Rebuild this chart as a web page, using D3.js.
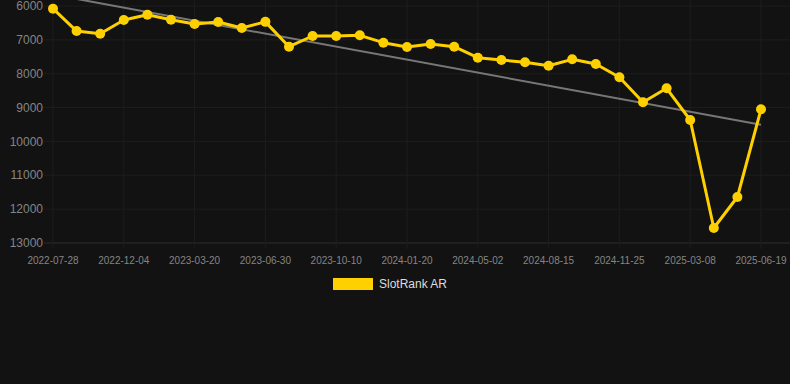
<!DOCTYPE html>
<html>
<head>
<meta charset="utf-8">
<script src="https://cdn.jsdelivr.net/npm/d3@7"></script>
<style>
  html, body { margin: 0; padding: 0; background: #121212; }
  svg { display: block; font-family: "Liberation Sans", Arial, sans-serif; }
</style>
</head>
<body>
<div class="box"></div>
<script>
// données
const dates = [
  '2022-07-28', '2022-09-09', '2022-10-22', '2022-12-04', '2023-01-08', '2023-02-12',
  '2023-03-20', '2023-04-23', '2023-05-27', '2023-06-30', '2023-08-03', '2023-09-06',
  '2023-10-10', '2023-11-13', '2023-12-17', '2024-01-20', '2024-02-23', '2024-03-28',
  '2024-05-02', '2024-06-06', '2024-07-11', '2024-08-15', '2024-09-18', '2024-10-22',
  '2024-11-25', '2024-12-29', '2025-02-01', '2025-03-08', '2025-04-11', '2025-05-15',
  '2025-06-19'
];
const rangs = [
  6080, 6740, 6820, 6413, 6256, 6404, 6532, 6473, 6650, 6468, 7202, 6886,
  6886, 6866, 7083, 7211, 7122, 7202, 7527, 7595, 7664, 7763, 7575, 7713,
  8106, 8845, 8431, 9367, 12556, 11641, 9051
];
const yTicks = [6000, 7000, 8000, 9000, 10000, 11000, 12000, 13000];
const serie = 'SlotRank AR';

const dims = {width: 790, height: 384, left: 53, right: 761, bottom: 243};

const svg = d3.select('.box')
              .append('svg')
              .attr('width', dims.width)
              .attr('height', dims.height);

const x = d3.scalePoint()
            .domain(dates)
            .range([dims.left, dims.right]);

// axe inversé : 6000 en haut
const y = d3.scaleLinear()
            .domain([6000, 13000])
            .range([6, dims.bottom]);

const gridColor = '#1d1d1d';

// grille horizontale
svg.append('g')
   .selectAll('line')
   .data(yTicks)
   .enter()
   .append('line')
   .attr('x1', dims.left - 9)
   .attr('x2', dims.width)
   .attr('y1', d => y(d))
   .attr('y2', d => y(d))
   .attr('stroke', d => d === 13000 ? '#2c2c2c' : gridColor)
   .attr('stroke-width', 1);

// grille verticale (une étiquette sur trois)
const xTicks = dates.filter((d, i) => i % 3 === 0);

svg.append('g')
   .selectAll('line')
   .data(xTicks)
   .enter()
   .append('line')
   .attr('x1', d => x(d))
   .attr('x2', d => x(d))
   .attr('y1', 0)
   .attr('y2', dims.bottom + 6)
   .attr('stroke', gridColor)
   .attr('stroke-width', 1);

// étiquettes Y
svg.append('g')
   .selectAll('text')
   .data(yTicks)
   .enter()
   .append('text')
   .attr('x', 43)
   .attr('y', d => y(d))
   .attr('dy', '0.35em')
   .attr('text-anchor', 'end')
   .attr('fill', '#858585')
   .style('font-size', '12px')
   .text(d => d);

// étiquettes X
svg.append('g')
   .selectAll('text')
   .data(xTicks)
   .enter()
   .append('text')
   .attr('x', d => x(d))
   .attr('y', 260)
   .attr('dy', '0.35em')
   .attr('text-anchor', 'middle')
   .attr('fill', '#858585')
   .style('font-size', '10px')
   .text(d => d);

// droite de tendance (régression linéaire)
const n = rangs.length;
const mx = d3.mean(d3.range(n));
const my = d3.mean(rangs);
const pente = d3.sum(rangs, (v, i) => (i - mx) * (v - my)) / d3.sum(d3.range(n), i => (i - mx) ** 2);
const origine = my - pente * mx;

svg.append('line')
   .attr('x1', x(dates[0]))
   .attr('y1', y(origine))
   .attr('x2', x(dates[n - 1]))
   .attr('y2', y(origine + pente * (n - 1)))
   .attr('stroke', '#777')
   .attr('stroke-width', 2);

// courbe
const ligne = d3.line()
                .x((d, i) => x(dates[i]))
                .y(d => y(d));

svg.append('path')
   .datum(rangs)
   .attr('d', ligne)
   .attr('fill', 'none')
   .attr('stroke', '#ffd000')
   .attr('stroke-width', 3)
   .attr('stroke-linejoin', 'round');

svg.append('g')
   .selectAll('circle')
   .data(rangs)
   .enter()
   .append('circle')
   .attr('cx', (d, i) => x(dates[i]))
   .attr('cy', d => y(d))
   .attr('r', 5)
   .attr('fill', '#ffd000');

// légende
const legende = svg.append('g')
                   .attr('transform', 'translate(333, 278)');

legende.append('rect')
       .attr('width', 40)
       .attr('height', 12)
       .attr('fill', '#ffd000');

legende.append('text')
       .attr('x', 46)
       .attr('y', 6)
       .attr('dy', '0.35em')
       .attr('fill', '#dddddd')
       .style('font-size', '12px')
       .text(serie);
</script>
</body>
</html>
